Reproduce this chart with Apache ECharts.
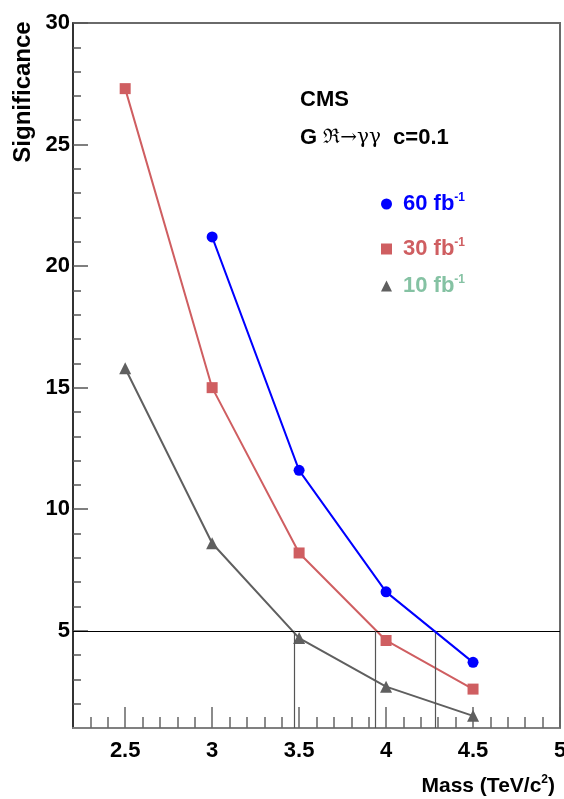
<!DOCTYPE html>
<html>
<head>
<meta charset="utf-8">
<script src="https://cdn.jsdelivr.net/npm/echarts@6/dist/echarts.min.js"></script>
<style>
  html, body { margin: 0; padding: 0; background: #fff; }
  #chart { width: 564px; height: 799px; }
</style>
</head>
<body>
<div id="chart"></div>
<script>
// values
var mass = [2.5, 3, 3.5, 4, 4.5];
var mass60 = [3, 3.5, 4, 4.5];
var sig60 = [21.2, 11.6, 6.6, 3.7];
var sig30 = [27.3, 15.0, 8.2, 4.6, 2.6];
var sig10 = [15.8, 8.6, 4.7, 2.7, 1.5];
var discoveryLevel = 5;
var crossMass = [3.47, 3.94, 4.28]; // where 10, 30, 60 fb-1 cross 5 sigma

var xMajor = [2.5, 3, 3.5, 4, 4.5, 5];
var xMinor = [2.3, 2.4, 2.6, 2.7, 2.8, 2.9, 3.1, 3.2, 3.3, 3.4, 3.6, 3.7, 3.8, 3.9, 4.1, 4.2, 4.3, 4.4, 4.6, 4.7, 4.8, 4.9];
var yMajor = [5, 10, 15, 20, 25, 30];
var yMinor = [2, 3, 4, 6, 7, 8, 9, 11, 12, 13, 14, 16, 17, 18, 19, 21, 22, 23, 24, 26, 27, 28, 29];

var seriesNames = ['60 fb', '30 fb', '10 fb'];
var FONT = '"Liberation Sans", Arial, Helvetica, sans-serif';
var BLUE = '#0000ff', RED = '#cf5e61', GRAY = '#5f5f5f', GREEN = '#85c2a3';

function pairs(xs, ys) {
  return xs.map(function (x, i) { return [x, ys[i]]; });
}

var chart = echarts.init(document.getElementById('chart'));

var legendSpec = [
  { name: seriesNames[0], icon: 'circle', color: BLUE, top: 192 },
  { name: seriesNames[1], icon: 'rect', color: RED, top: 237 },
  { name: seriesNames[2], icon: 'triangle', color: GREEN, top: 274 }
];

var option = {
  animation: false,
  backgroundColor: '#fff',
  grid: {
    left: 73, right: 4, top: 23, bottom: 71,
    outerBoundsMode: 'none', containLabel: false,
    show: true, borderColor: '#6a6a6a', borderWidth: 2
  },
  xAxis: [{
    type: 'value', min: 2.2, max: 5, position: 'bottom',
    axisLine: { show: true, lineStyle: { color: '#808080', width: 2 } },
    axisTick: { show: true, inside: true, length: 21, customValues: xMajor, lineStyle: { color: '#666', width: 1.5 } },
    axisLabel: { customValues: xMajor, margin: 12, color: '#000', fontSize: 22, fontWeight: 'bold', fontFamily: FONT },
    splitLine: { show: false }
  }, {
    type: 'value', min: 2.2, max: 5, position: 'bottom',
    axisLine: { show: false },
    axisTick: { show: true, inside: true, length: 11, customValues: xMinor, lineStyle: { color: '#666', width: 1.5 } },
    axisLabel: { show: false },
    splitLine: { show: false }
  }],
  yAxis: [{
    type: 'value', min: 1, max: 30, position: 'left',
    axisLine: { show: true, lineStyle: { color: '#222', width: 1.5 } },
    axisTick: { show: true, inside: true, length: 15, customValues: yMajor, lineStyle: { color: '#555', width: 1.5 } },
    axisLabel: { customValues: yMajor, margin: 3, color: '#000', fontSize: 22, fontWeight: 'bold', fontFamily: FONT },
    splitLine: { show: false }
  }, {
    type: 'value', min: 1, max: 30, position: 'left',
    axisLine: { show: false },
    axisTick: { show: true, inside: true, length: 8, customValues: yMinor, lineStyle: { color: '#555', width: 1.5 } },
    axisLabel: { show: false },
    splitLine: { show: false }
  }],
  legend: legendSpec.map(function (it) {
    return {
      data: [{ name: it.name, icon: it.icon }],
      left: 381, top: it.top, padding: 0,
      itemWidth: 11, itemHeight: 11, selectedMode: false,
      formatter: function (n) { return '{t|' + n + '}{s|-1}'; },
      textStyle: {
        rich: {
          t: { color: it.color, fontSize: 22, fontWeight: 'bold', fontFamily: FONT, padding: [0, 0, 0, 6] },
          s: { color: it.color, fontSize: 12, fontWeight: 'bold', fontFamily: FONT, padding: [0, 0, 12, 0] }
        }
      }
    };
  }),
  graphic: [{
    type: 'text', x: 23, y: 92, rotation: Math.PI / 2,
    style: { text: 'Significance', font: 'bold 24px ' + FONT, fill: '#000', align: 'center', verticalAlign: 'middle' }
  }, {
    type: 'text', x: 555, y: 786,
    style: {
      text: '{m|Mass (TeV/c}{s|2}{m|)}', align: 'right', verticalAlign: 'middle',
      rich: {
        m: { font: 'bold 21px ' + FONT, fill: '#000' },
        s: { font: 'bold 12px ' + FONT, fill: '#000', padding: [0, 0, 12, 0] }
      }
    }
  }, {
    type: 'text', x: 300, y: 100,
    style: { text: 'CMS', font: 'bold 22px ' + FONT, fill: '#000', verticalAlign: 'middle' }
  }, {
    type: 'text', x: 300, y: 138,
    style: {
      text: '{a|G }{b|ℜ→γγ}{a|  c=0.1}', verticalAlign: 'middle',
      rich: {
        a: { font: 'bold 22px ' + FONT, fill: '#000' },
        b: { font: '20px "DejaVu Serif", serif', fill: '#000' }
      }
    }
  }],
  series: [{
    name: seriesNames[0], type: 'line', xAxisIndex: 0, yAxisIndex: 0,
    data: pairs(mass60, sig60),
    symbol: 'circle', symbolSize: 11,
    itemStyle: { color: BLUE }, lineStyle: { color: BLUE, width: 2 },
    z: 5
  }, {
    name: seriesNames[1], type: 'line', xAxisIndex: 0, yAxisIndex: 0,
    data: pairs(mass, sig30),
    symbol: 'rect', symbolSize: 11,
    itemStyle: { color: RED }, lineStyle: { color: RED, width: 2 },
    z: 4
  }, {
    name: seriesNames[2], type: 'line', xAxisIndex: 0, yAxisIndex: 0,
    data: pairs(mass, sig10),
    symbol: 'triangle', symbolSize: 12,
    itemStyle: { color: GRAY }, lineStyle: { color: GRAY, width: 2 },
    z: 3,
    markLine: {
      silent: true, symbol: 'none', label: { show: false },
      lineStyle: { type: 'solid' },
      data: [
        { yAxis: discoveryLevel, lineStyle: { color: '#000', width: 1.2 } }
      ].concat(crossMass.map(function (m) {
        return [
          { coord: [m, 1], lineStyle: { color: '#555', width: 1.2 } },
          { coord: [m, discoveryLevel] }
        ];
      }))
    }
  }]
};

chart.setOption(option);
</script>
</body>
</html>
